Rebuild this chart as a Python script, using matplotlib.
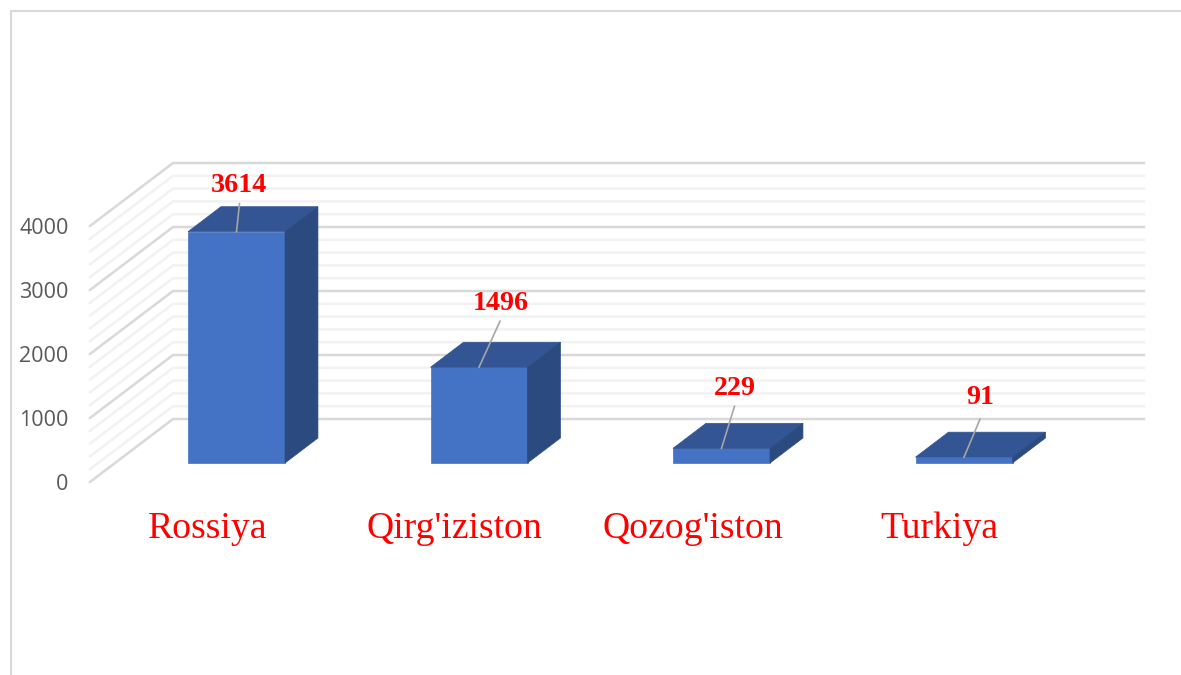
import matplotlib
matplotlib.use('Agg')
import matplotlib.pyplot as plt
from matplotlib.lines import Line2D
from matplotlib.patches import Polygon

categories = ["Rossiya", "Qirg'iziston", "Qozog'iston", "Turkiya"]
values = [3614, 1496, 229, 91]
major_ticks = [0, 1000, 2000, 3000, 4000]
minor_ticks = [200, 400, 600, 800, 1200, 1400, 1600, 1800, 2200, 2400, 2600, 2800,
               3200, 3400, 3600, 3800]

# oblique projection: pixels per value, and the shift of the full floor depth
PX_PER_VALUE = 0.064
ZERO_PX = 482
DEPTH_X = 83
DEPTH_V = 63 / PX_PER_VALUE
BAR_D0 = 19 / 63
BAR_D1 = 44 / 63
WALL_LEFT = 90
WALL_RIGHT = 1144
BAR_LEFT = 188
BAR_STEP = 242.5
BAR_W = 97

# leader end and label centre, in pixels from the top centre of the bar front
leader_off = [(3, 28), (21, 46), (13, 42), (16, 38)]
label_off = [(2.5, 46), (22, 64), (13.5, 60), (16, 60)]
cat_off = [-29, -25, -29, -25]
cat_y_px = 529

FRONT = '#4472C4'
TOP = '#335593'
SIDE = '#2A4A80'


def proj(x, v, d):
    return x + DEPTH_X * d, v + DEPTH_V * d


fig = plt.figure(figsize=(11.81, 6.75), dpi=100)
ax = fig.add_axes([WALL_LEFT / 1181, 0, 1 - WALL_LEFT / 1181, 1])
ax.set_xlim(WALL_LEFT, 1181)
ax.set_ylim((ZERO_PX - 675) / PX_PER_VALUE, ZERO_PX / PX_PER_VALUE)
ax.patch.set_visible(False)
for s in ax.spines.values():
    s.set_visible(False)
ax.set_xticks([])
ax.set_yticks(major_ticks)
ax.set_yticklabels([str(t) for t in major_ticks], family='Open Sans', fontsize=15.5,
                   color='#595959')
ax.tick_params(axis='y', length=0, pad=15.5)

# chart frame
fig.add_artist(Line2D([11 / 1181, 11 / 1181, 1], [0, 1 - 11 / 675, 1 - 11 / 675],
                      color='#D9D9D9', lw=1.5))

# wall and floor gridlines
for ticks, col in [(minor_ticks, '#F2F2F2'), (major_ticks, '#D9D9D9')]:
    for t in ticks:
        x0, y0 = proj(WALL_LEFT, t, 0)
        x1, y1 = proj(WALL_LEFT, t, 1)
        ax.plot([x0, x1, WALL_RIGHT], [y0, y1, y1], color=col, lw=1.8, clip_on=False,
                solid_joinstyle='miter', zorder=1)

for i, (name, val) in enumerate(zip(categories, values)):
    x0 = BAR_LEFT + i * BAR_STEP - DEPTH_X * BAR_D0
    x1 = x0 + BAR_W
    a = proj(x0, val, BAR_D0)
    b = proj(x1, val, BAR_D0)
    c = proj(x1, val, BAR_D1)
    d = proj(x0, val, BAR_D1)
    e = proj(x1, 0, BAR_D0)
    f = proj(x1, 0, BAR_D1)
    g = proj(x0, 0, BAR_D0)
    ax.add_patch(Polygon([g, e, b, a], fc=FRONT, ec=FRONT, lw=0.5, zorder=3))
    ax.add_patch(Polygon([a, b, c, d], fc=TOP, ec=TOP, lw=0.5, zorder=3))
    ax.add_patch(Polygon([e, f, c, b], fc=SIDE, ec=SIDE, lw=0.5, zorder=3))

    cx = (a[0] + b[0]) / 2
    ax.plot([cx, cx + leader_off[i][0]], [val + BAR_D0 * DEPTH_V,
            val + BAR_D0 * DEPTH_V + leader_off[i][1] / PX_PER_VALUE],
            color='#A6A6A6', lw=1.2, zorder=4)
    ax.text(cx + label_off[i][0], val + BAR_D0 * DEPTH_V + label_off[i][1] / PX_PER_VALUE,
            str(val), family='Liberation Serif', fontsize=20.2, fontweight='bold',
            color='#FF0000', ha='center', va='center', zorder=5)
    ax.text(cx + cat_off[i], (ZERO_PX - cat_y_px) / PX_PER_VALUE, name,
            family='Liberation Serif', fontsize=27.2, color='#FF0000',
            ha='center', va='center')

fig.savefig('out.png', dpi=100)
